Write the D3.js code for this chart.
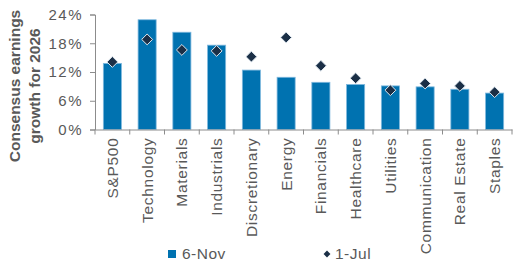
<!DOCTYPE html>
<html>
<head>
<meta charset="utf-8">
<script src="https://cdn.jsdelivr.net/npm/d3@7"></script>
<style>
  body { margin: 0; background: #fff; }
  svg text { font-family: "Liberation Sans", Arial, sans-serif; fill: #595959; }
</style>
</head>
<body>
<svg id="chart" width="525" height="271"></svg>
<script>
// chart data
var sectors = ['S&P500', 'Technology', 'Materials', 'Industrials', 'Discretionary', 'Energy',
  'Financials', 'Healthcare', 'Utilities', 'Communication', 'Real Estate', 'Staples'];
var nov6 = [13.8, 22.9, 20.3, 17.6, 12.4, 10.9, 9.85, 9.4, 9.1, 8.9, 8.4, 7.6];
var jul1 = [14.1, 18.8, 16.6, 16.4, 15.2, 19.2, 13.3, 10.7, 8.2, 9.6, 9.1, 7.8];
var yTicks = [0, 6, 12, 18, 24];
var seriesNames = ['6-Nov', '1-Jul'];

var svg = d3.select('#chart');
var plotLeft = 95, plotRight = 512, plotTop = 14.5, plotBottom = 129.5;

var x = d3.scaleBand().domain(sectors).range([plotLeft, plotRight]).paddingInner(0.48).paddingOuter(0.24);
var xb = d3.scaleBand().domain(sectors).range([plotLeft, plotRight]);
var y = d3.scaleLinear().domain([0, 24]).range([plotBottom, plotTop]);

// bars
svg.append('g').selectAll('rect')
  .data(nov6)
  .enter().append('rect')
  .attr('x', function (d, i) { return x(sectors[i]); })
  .attr('y', function (d) { return y(d); })
  .attr('width', x.bandwidth())
  .attr('height', function (d) { return y(0) - y(d); })
  .attr('fill', '#0072B0')
  .attr('stroke', '#7FB8DE')
  .attr('stroke-width', 0.8);

// diamonds
var diamond = d3.symbol().type(d3.symbolDiamond2).size(75);
svg.append('g').selectAll('path')
  .data(jul1)
  .enter().append('path')
  .attr('d', diamond)
  .attr('transform', function (d, i) {
    return 'translate(' + (xb(sectors[i]) + xb.bandwidth() / 2) + ',' + y(d) + ')';
  })
  .attr('fill', '#1B2F46')
  .attr('stroke', '#DDE6EE')
  .attr('stroke-width', 1);

// y axis
var yAxis = svg.append('g')
  .attr('transform', 'translate(' + plotLeft + ',0)')
  .call(d3.axisLeft(y).tickValues(yTicks).tickSize(5).tickPadding(7)
    .tickFormat(function (d) { return d + '%'; }));
yAxis.selectAll('path, line').attr('stroke', '#8C8C8C');
yAxis.selectAll('text').attr('font-size', 15).attr('letter-spacing', 1.5).attr('fill', '#595959');

// x axis
var xAxis = svg.append('g')
  .attr('transform', 'translate(0,' + plotBottom + ')')
  .call(d3.axisBottom(xb).tickSize(0).tickSizeOuter(0));
xAxis.select('.domain').attr('stroke', '#8C8C8C');
xAxis.selectAll('text')
  .attr('font-size', 15.5)
  .attr('letter-spacing', 0.7)
  .attr('fill', '#595959')
  .attr('transform', 'rotate(-90)')
  .attr('text-anchor', 'end')
  .attr('x', -8)
  .attr('y', 0)
  .attr('dy', '0.35em');
// boundary ticks
svg.append('g').selectAll('line')
  .data(sectors.concat(['end']))
  .enter().append('line')
  .attr('x1', function (d, i) { return i < sectors.length ? xb(d) : plotRight; })
  .attr('x2', function (d, i) { return i < sectors.length ? xb(d) : plotRight; })
  .attr('y1', plotBottom)
  .attr('y2', plotBottom + 5)
  .attr('stroke', '#8C8C8C');

// y title
var title = svg.append('text')
  .attr('transform', 'translate(15,86) rotate(-90)')
  .attr('text-anchor', 'middle')
  .attr('font-size', 15.5)
  .attr('font-weight', 'bold');
title.append('tspan').attr('x', 0).attr('dy', '0.35em').text('Consensus earnings');
title.append('tspan').attr('x', 0).attr('dy', 20).text('growth for 2026');

// legend
var lg = svg.append('g');
lg.append('rect').attr('x', 168).attr('y', 250).attr('width', 8).attr('height', 8).attr('fill', '#0072B0');
lg.append('text').attr('x', 182).attr('y', 254).attr('dy', '0.35em').attr('font-size', 15.5).attr('letter-spacing', 0.5).text(seriesNames[0]);
lg.append('path').attr('d', d3.symbol().type(d3.symbolDiamond2).size(30))
  .attr('transform', 'translate(327,254)').attr('fill', '#1B2F46');
lg.append('text').attr('x', 335).attr('y', 254).attr('dy', '0.35em').attr('font-size', 15.5).attr('letter-spacing', 0.5).text(seriesNames[1]);
</script>
</body>
</html>
